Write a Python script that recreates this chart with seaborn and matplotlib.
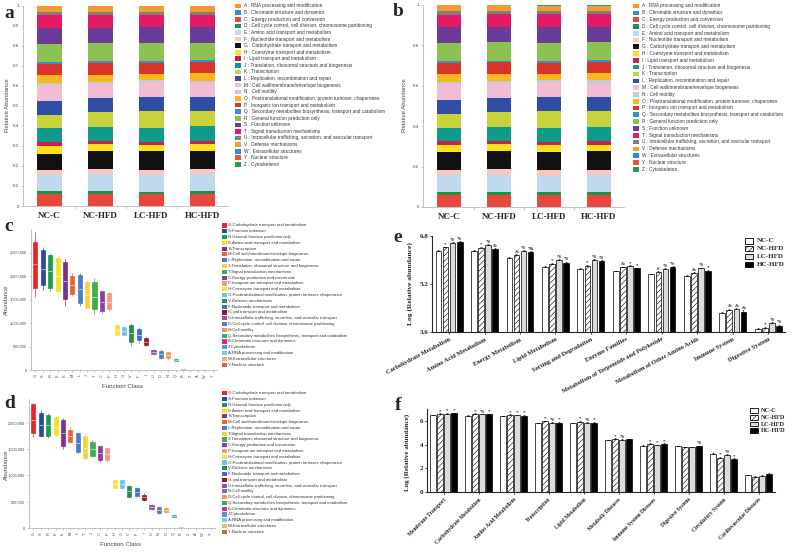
import numpy as np
import pandas as pd
import matplotlib
matplotlib.use("Agg")
import matplotlib.pyplot as plt
from matplotlib.patches import Rectangle
from matplotlib.ticker import FuncFormatter
import seaborn as sns

W, H = 800, 555
SANS = "Liberation Sans"
SERIF = "Liberation Serif"

GROUPS = ["NC-C", "NC-HFD", "LC-HFD", "HC-HFD"]

## panels a / b : COG composition (stacked from A at the bottom up to Z)
COG_LETTERS = ["A", "B", "C", "D", "E", "F", "G", "H", "I", "J", "K", "L", "M",
               "N", "O", "P", "Q", "R", "S", "T", "U", "V", "W", "Y", "Z"]
COG_NAMES = [
    "RNA processing and modification",
    "Chromatin structure and dynamics",
    "Energy production and conversion",
    "Cell cycle control, cell division, chromosome partitioning",
    "Amino acid transport and metabolism",
    "Nucleotide transport and metabolism",
    "Carbohydrate transport and metabolism",
    "Coenzyme transport and metabolism",
    "Lipid transport and metabolism",
    "Translation, ribosomal structure and biogenesis",
    "Transcription",
    "Replication, recombination and repair",
    "Cell wall/membrane/envelope biogenesis",
    "Cell motility",
    "Posttranslational modification, protein turnover, chaperones",
    "Inorganic ion transport and metabolism",
    "Secondary metabolites biosynthesis, transport and catabolism",
    "General function prediction only",
    "Function unknown",
    "Signal transduction mechanisms",
    "Intracellular trafficking, secretion, and vesicular transport",
    "Defense mechanisms",
    "Extracellular structures",
    "Nuclear structure",
    "Cytoskeleton",
]
COG_COLORS = ["#f39a1f", "#2f8fd1", "#e8473d", "#1f8f4a", "#bfd9ee", "#f8c6c3",
              "#111111", "#ffe01a", "#cc1f4e", "#0f9a8a", "#c8d23a", "#2e4fa3",
              "#f2bcd4", "#c9c9d6", "#f8b81d", "#d9342b", "#3a8ecf", "#8cc252",
              "#6a3b98", "#e31b63", "#7f7f7f", "#f39c34", "#2b8cd8", "#e8543e",
              "#2a9c4d"]

a_nc_c = [.001, .0005, .058, .014, .083, .025, .080, .040, .020, .068, .067, .070, .080,
          .008, .040, .055, .009, .091, .081, .062, .016, .030, .001, .0005, .002]
a_nc_hfd = [.001, .0005, .058, .014, .085, .028, .090, .032, .016, .070, .077, .068, .072,
            .010, .035, .057, .009, .092, .075, .063, .015, .030, .001, .0005, .002]
a_lc_hfd = [.001, .0005, .056, .014, .082, .026, .094, .030, .016, .072, .082, .070, .075,
            .009, .032, .055, .009, .090, .078, .063, .014, .029, .001, .0005, .002]
a_hc_hfd = [.001, .0005, .058, .013, .085, .027, .092, .032, .017, .072, .078, .068, .072,
            .011, .037, .055, .009, .088, .077, .062, .014, .029, .001, .0005, .002]

b_nc_c = [.001, .0005, .058, .016, .084, .025, .087, .035, .018, .066, .070, .069, .079,
          .009, .039, .055, .009, .090, .080, .062, .016, .030, .001, .0005, .002]
b_nc_hfd = [.001, .0005, .058, .015, .085, .027, .091, .032, .016, .070, .076, .068, .073,
            .010, .036, .057, .009, .091, .076, .063, .015, .030, .001, .0005, .002]
b_lc_hfd = [.001, .0005, .057, .014, .083, .026, .093, .031, .016, .071, .081, .070, .075,
            .009, .032, .055, .009, .090, .078, .063, .014, .029, .001, .0005, .002]
b_hc_hfd = [.001, .0005, .058, .014, .084, .027, .091, .032, .017, .072, .078, .068, .073,
            .011, .036, .055, .009, .089, .077, .062, .014, .029, .001, .0005, .002]

## panels c / d : abundance boxes per function class (min, q1, median, q3, max in millions)
c_classes = ["G", "S", "R", "E", "K", "M", "L", "J", "T", "C", "P", "H", "O",
             "V", "F", "I", "U", "D", "N", "Q", "B", "Z", "A", "W", "Y"]
d_classes = ["G", "S", "R", "E", "K", "M", "L", "T", "J", "C", "P", "H", "O",
             "V", "F", "I", "U", "N", "D", "Q", "B", "Z", "A", "W", "Y"]
BOX_COLORS = ["#e8252a", "#2a4b9b", "#1a9b4b", "#f4e21c", "#7d2f8f", "#e8642c",
              "#4c7cc5", "#f6d43f", "#3fae49", "#8c3fa0", "#f29a7a", "#f7e04a",
              "#6cc3e6", "#2a8b57", "#3f70b8", "#8e1c1f", "#9a4ca8", "#4f7fbd",
              "#ef9b4f", "#3aa86a", "#e0288a", "#5a94cc", "#78d0e3", "#f9b07c",
              "#e85a3c"]
c_stats = [
    [1.56, 1.74, 2.25, 2.72, 2.94], [1.71, 1.80, 2.15, 2.55, 2.62],
    [1.68, 1.75, 2.10, 2.45, 2.50], [1.62, 1.68, 2.00, 2.38, 2.45],
    [1.36, 1.51, 1.90, 2.30, 2.36], [1.58, 1.62, 1.80, 2.00, 2.06],
    [1.36, 1.43, 1.72, 2.02, 2.07], [1.29, 1.32, 1.60, 1.88, 1.93],
    [1.19, 1.29, 1.55, 1.88, 1.95], [1.21, 1.25, 1.45, 1.68, 1.69],
    [1.24, 1.29, 1.45, 1.63, 1.68], [0.72, 0.74, 0.85, 0.96, 0.99],
    [0.74, 0.75, 0.83, 0.92, 0.94], [0.51, 0.59, 0.78, 0.96, 0.99],
    [0.57, 0.63, 0.75, 0.88, 0.92], [0.51, 0.53, 0.60, 0.68, 0.70],
    [0.34, 0.35, 0.39, 0.42, 0.44], [0.24, 0.26, 0.33, 0.40, 0.44],
    [0.21, 0.26, 0.32, 0.38, 0.40], [0.19, 0.20, 0.22, 0.24, 0.25],
    [0.008, 0.010, 0.012, 0.014, 0.016], [0.004, 0.005, 0.006, 0.007, 0.008],
    [0.002, 0.003, 0.004, 0.005, 0.006], [0.001, 0.0015, 0.002, 0.0025, 0.003],
    [0.0005, 0.0008, 0.001, 0.0012, 0.0015],
]
d_stats = [
    [1.72, 1.80, 2.05, 2.35, 2.37], [1.72, 1.75, 1.95, 2.18, 2.24],
    [1.71, 1.75, 1.95, 2.15, 2.19], [1.72, 1.77, 1.92, 2.10, 2.13],
    [1.50, 1.55, 1.80, 2.05, 2.08], [1.62, 1.64, 1.75, 1.87, 1.92],
    [1.42, 1.45, 1.62, 1.80, 1.83], [1.29, 1.32, 1.52, 1.75, 1.80],
    [1.35, 1.36, 1.50, 1.64, 1.67], [1.26, 1.29, 1.42, 1.55, 1.58],
    [1.26, 1.29, 1.40, 1.51, 1.54], [0.74, 0.76, 0.84, 0.91, 0.93],
    [0.74, 0.76, 0.84, 0.91, 0.93], [0.57, 0.59, 0.70, 0.80, 0.82],
    [0.59, 0.60, 0.68, 0.76, 0.78], [0.52, 0.54, 0.58, 0.63, 0.66],
    [0.35, 0.36, 0.40, 0.44, 0.46], [0.27, 0.28, 0.34, 0.40, 0.41],
    [0.28, 0.30, 0.34, 0.38, 0.40], [0.20, 0.21, 0.23, 0.25, 0.26],
    [0.008, 0.010, 0.012, 0.014, 0.016], [0.004, 0.005, 0.006, 0.007, 0.008],
    [0.002, 0.003, 0.004, 0.005, 0.006], [0.001, 0.0015, 0.002, 0.0025, 0.003],
    [0.0005, 0.0008, 0.001, 0.0012, 0.0015],
]

## panel e : KEGG level-2/3 pathways, log relative abundance
e_categories = ["Carbohydrate Metabolism", "Amino Acid Metabolism", "Energy Metabolism",
                "Lipid Metabolism", "Sorting and Degradation", "Enzyme Families",
                "Metabolism of Terpenoids and Polyketide",
                "Metabolism of Other Amino Acids", "Immune System", "Digestive System"]
e_nc_c = [6.30, 6.31, 6.07, 5.78, 5.70, 5.63, 5.52, 5.47, 4.24, 3.71]
e_nc_hfd = [6.42, 6.39, 6.17, 5.87, 5.80, 5.76, 5.59, 5.57, 4.33, 3.74]
e_lc_hfd = [6.56, 6.49, 6.30, 6.00, 6.00, 5.79, 5.70, 5.72, 4.36, 3.89]
e_hc_hfd = [6.61, 6.36, 6.27, 5.91, 5.96, 5.73, 5.76, 5.64, 4.28, 3.81]
e_err = [[0.02, 0.02, 0.02, 0.01, 0.02, 0.02, 0.02, 0.02, 0.03, 0.02],
         [0.03, 0.04, 0.03, 0.02, 0.03, 0.02, 0.03, 0.03, 0.04, 0.02],
         [0.03, 0.03, 0.03, 0.03, 0.02, 0.03, 0.02, 0.03, 0.03, 0.03],
         [0.02, 0.03, 0.02, 0.03, 0.03, 0.02, 0.03, 0.02, 0.04, 0.03]]
e_marks = [["", "", "", "", "", "", "", "", "", ""],
           ["*", "*", "&", "*", "*", "&", "#", "&", "&", "*"],
           ["*#", "*#", "*#", "*#", "*#", "*", "*#", "*#", "&", "*#"],
           ["*#", "&", "*&", "*#", "*#", "*", "*#", "*", "&", "*#"]]

## panel f
f_categories = ["Membrane Transport", "Carbohydrate Metabolism", "Amino Acid Metabolism",
                "Transcription", "Lipid Metabolism", "Metabolic Diseases",
                "Immune System Diseases", "Digestive System", "Circulatory System",
                "Cardiovascular Diseases"]
f_nc_c = [6.49, 6.43, 6.38, 5.81, 5.81, 4.38, 3.92, 3.84, 3.24, 1.40]
f_nc_hfd = [6.59, 6.59, 6.49, 5.95, 5.92, 4.46, 4.05, 3.76, 2.86, 1.30]
f_lc_hfd = [6.62, 6.54, 6.49, 5.86, 5.86, 4.38, 3.95, 3.76, 3.14, 1.35]
f_hc_hfd = [6.65, 6.57, 6.43, 5.86, 5.86, 4.43, 4.05, 3.86, 2.76, 1.55]
f_err = [[0.03, 0.03, 0.03, 0.04, 0.03, 0.04, 0.04, 0.03, 0.05, 0.06],
         [0.04, 0.04, 0.05, 0.05, 0.05, 0.06, 0.05, 0.04, 0.08, 0.08],
         [0.03, 0.04, 0.04, 0.04, 0.04, 0.05, 0.05, 0.04, 0.07, 0.08],
         [0.04, 0.03, 0.04, 0.04, 0.04, 0.05, 0.05, 0.05, 0.08, 0.09]]
f_marks = [["", "", "", "", "", "", "", "", "", ""],
           ["*", "*", "*", "*", "*", "*", "*", "", "*", ""],
           ["*", "*#", "*", "*#", "*#", "*#", "*", "", "*#", ""],
           ["*", "*", "*", "*", "*", "", "*", "*#", "*", ""]]

BAR_FILLS = ["white", "white", "#dcdcdc", "black"]
BAR_HATCH = ["", "//////", "", ""]

sns.set_style("ticks")
plt.rcParams["font.family"] = [SANS, "DejaVu Sans"]
plt.rcParams["hatch.linewidth"] = 0.4

fig = plt.figure(figsize=(W / 100, H / 100), dpi=100)


def px_axes(l, t, r, b):
    return fig.add_axes([l / W, 1 - b / H, (r - l) / W, (b - t) / H])


def ftext(x, y, s, **kw):
    fig.text(x / W, 1 - y / H, s, **kw)


def draw_legend(x, y, step, labels, colors, size, box=(6, 4.5), gap=3,
                edge="none", hatches=None, **kw):
    for i, (lab, col) in enumerate(zip(labels, colors)):
        yy = y + i * step
        rect = Rectangle((x / W, 1 - (yy + box[1] / 2) / H), box[0] / W, box[1] / H,
                         transform=fig.transFigure, facecolor=col, edgecolor=edge,
                         linewidth=0.6, hatch=hatches[i] if hatches else None)
        fig.patches.append(rect)
        ftext(x + box[0] + gap, yy, lab, fontsize=size, va="center", **kw)


def stacked_panel(ax, table, ticks):
    vals = np.array(table)
    x = np.arange(len(GROUPS))
    bottoms = np.zeros(len(GROUPS))
    for j, col in enumerate(COG_COLORS):
        ax.bar(x, vals[:, j], bottom=bottoms, width=0.48, color=col, linewidth=0)
        bottoms += vals[:, j]
    ax.set_xlim(-0.52, 3.5)
    ax.set_ylim(0, 1)
    ax.set_yticks(ticks)
    ax.yaxis.set_major_formatter(FuncFormatter(lambda v, p: f"{v:g}"))
    ax.set_xticks(x)
    ax.set_xticklabels(GROUPS, fontfamily=SERIF, fontweight="bold", fontsize=6.5)
    ax.set_xticks([0.5, 1.5, 2.5], minor=True)
    ax.tick_params(axis="x", which="major", length=0, pad=4)
    ax.tick_params(axis="x", which="minor", length=2, width=0.4, color="#999999")
    ax.tick_params(axis="y", length=1.5, width=0.4, color="#999999", labelsize=3.2,
                   labelcolor="#444444", pad=1.5)
    for s in ["top", "right"]:
        ax.spines[s].set_visible(False)
    for s in ["left", "bottom"]:
        ax.spines[s].set_linewidth(0.5)
        ax.spines[s].set_color("#aaaaaa")


def box_panel(ax, classes, stats, ymax, ticks):
    df = pd.DataFrame({
        "cls": np.repeat(classes, 5),
        "value": np.concatenate(stats) * 1e6,
    })
    sns.boxplot(data=df, x="cls", y="value", hue="cls", order=classes,
                hue_order=classes, palette=BOX_COLORS, whis=(0, 100), width=0.55,
                linewidth=0.5, showcaps=False, showfliers=False, saturation=1,
                legend=False, ax=ax)
    for patch in ax.patches:
        patch.set_edgecolor(patch.get_facecolor())
    for line in ax.lines:
        xd = np.asarray(line.get_xdata(), dtype=float)
        if len(xd) == 2 and np.isclose(xd[0], xd[1]):
            line.set_color(BOX_COLORS[int(round(xd[0]))])
            line.set_linewidth(0.5)
        else:
            line.set_color("white")
            line.set_linewidth(0.4)
    ax.set_xlim(-0.6, len(classes) - 0.4)
    ax.set_ylim(0, ymax)
    ax.set_yticks(ticks)
    ax.yaxis.set_major_formatter(FuncFormatter(lambda v, p: f"{int(v):,}"))
    ax.set_xlabel("")
    ax.set_ylabel("")
    ax.tick_params(axis="x", length=1.5, width=0.4, color="#999999", labelsize=2.8,
                   labelrotation=90, labelcolor="#444444", pad=1.5)
    ax.tick_params(axis="y", length=1.5, width=0.4, color="#999999", labelsize=2.8,
                   labelcolor="#444444", pad=1.5)
    for s in ["top", "right"]:
        ax.spines[s].set_visible(False)
    for s in ["left", "bottom"]:
        ax.spines[s].set_linewidth(0.5)
        ax.spines[s].set_color("#aaaaaa")


def kegg_panel(ax, categories, series, errs, marks, ylim, ticks, rot, lab_size):
    df = pd.DataFrame({
        "category": np.tile(categories, len(GROUPS)),
        "group": np.repeat(GROUPS, len(categories)),
        "value": np.concatenate(series),
    })
    sns.barplot(data=df, x="category", y="value", hue="group", order=categories,
                hue_order=GROUPS, palette=dict(zip(GROUPS, BAR_FILLS)),
                edgecolor="black", linewidth=0.5, width=0.8, gap=0.2, saturation=1,
                errorbar=None, legend=False, ax=ax)
    containers = list(ax.containers)
    for k, cont in enumerate(containers):
        xs = [p.get_x() + p.get_width() / 2 for p in cont]
        ys = [p.get_height() for p in cont]
        for p in cont:
            p.set_hatch(BAR_HATCH[k])
        ax.errorbar(xs, ys, yerr=[np.zeros(len(ys)), errs[k]], fmt="none",
                    ecolor="black", elinewidth=0.4, capsize=0.8, capthick=0.4)
        for xx, yy, ee, mm in zip(xs, ys, errs[k], marks[k]):
            if mm:
                ax.text(xx, yy + ee + (ylim[1] - ylim[0]) * 0.005, mm, ha="center",
                        va="bottom", fontsize=3.6, fontfamily=SERIF, fontweight="bold")
    ax.set_ylim(*ylim)
    ax.set_xlim(-0.48, len(categories) - 0.53)
    ax.set_yticks(ticks)
    ax.yaxis.set_major_formatter(FuncFormatter(lambda v, p: f"{v:g}"))
    ax.set_xlabel("")
    ax.set_ylabel("")
    ax.set_xticks(range(len(categories)))
    ax.set_xticklabels(categories, rotation=rot, ha="right", va="top",
                       rotation_mode="anchor", fontsize=lab_size, fontfamily=SERIF,
                       fontweight="bold")
    for lab in ax.get_yticklabels():
        lab.set_fontfamily(SERIF)
        lab.set_fontweight("bold")
    ax.tick_params(axis="x", length=1.5, width=0.6, pad=2)
    ax.tick_params(axis="y", length=1.5, width=0.6, labelsize=5, pad=1)
    for s in ["top", "right"]:
        ax.spines[s].set_visible(False)
    for s in ["left", "bottom"]:
        ax.spines[s].set_linewidth(0.8)


# ---- a
ax_a = px_axes(23, 5.7, 228, 206)
stacked_panel(ax_a, [a_nc_c, a_nc_hfd, a_lc_hfd, a_hc_hfd], np.linspace(0, 1, 11))
ftext(8, 105, "Relative Abundance", rotation=90, fontsize=4.3, color="#444444",
      ha="center", va="center")
legend_cog = [f"{k} : {n}" for k, n in zip(COG_LETTERS, COG_NAMES)]
draw_legend(235, 6, 6.6, legend_cog, COG_COLORS, 3.4, box=(6, 4.6), gap=3,
            color="#333333")

# ---- b
ax_b = px_axes(423, 5, 624, 207)
stacked_panel(ax_b, [b_nc_c, b_nc_hfd, b_lc_hfd, b_hc_hfd], np.linspace(0, 1, 6))
ftext(404, 105, "Relative Abundance", rotation=90, fontsize=4.3, color="#444444",
      ha="center", va="center")
draw_legend(633, 6, 6.8, legend_cog, COG_COLORS, 3.4, box=(6, 4.6), gap=3,
            color="#333333")

# ---- c
ax_c = px_axes(31, 229, 217, 370)
box_panel(ax_c, c_classes, c_stats, 3.0e6, np.arange(0, 2.6e6, 5e5))
ftext(6, 300, "Abundance", rotation=90, fontsize=4.3, color="#444444",
      ha="center", va="center")
ftext(122, 387, "Function Class", fontsize=4.5, color="#444444", ha="center",
      va="center")
name_of = dict(zip(COG_LETTERS, COG_NAMES))
draw_legend(222, 225.4, 5.8, [f"{k}:{name_of[k]}" for k in c_classes], BOX_COLORS,
            3.1, box=(5, 4.2), gap=1.2, color="#333333")

# ---- d
ax_d = px_axes(29, 399, 215, 528)
box_panel(ax_d, d_classes, d_stats, 2.45e6, np.arange(0, 2.1e6, 5e5))
ftext(6, 465, "Abundance", rotation=90, fontsize=4.3, color="#444444",
      ha="center", va="center")
ftext(120, 545, "Function Class", fontsize=4.5, color="#444444", ha="center",
      va="center")
draw_legend(222, 393.3, 5.77, [f"{k}:{name_of[k]}" for k in d_classes], BOX_COLORS,
            3.1, box=(5, 4.2), gap=1.2, color="#333333")

# ---- e
ax_e = px_axes(432, 236, 785, 332)
kegg_panel(ax_e, e_categories, [e_nc_c, e_nc_hfd, e_lc_hfd, e_hc_hfd], e_err, e_marks,
           (3.6, 6.8), [3.6, 5.2, 6.8], 28, 4.6)
ftext(410, 284, "Log (Relative abundance)", rotation=90, fontsize=5.4,
      fontfamily=SERIF, fontweight="bold", ha="center", va="center")
draw_legend(745, 241, 7.7, GROUPS, BAR_FILLS, 5, box=(8, 5.2), gap=4, edge="black",
            hatches=BAR_HATCH, fontfamily=SERIF, fontweight="bold")

# ---- f
ax_f = px_axes(427, 409, 775, 492)
kegg_panel(ax_f, f_categories, [f_nc_c, f_nc_hfd, f_lc_hfd, f_hc_hfd], f_err, f_marks,
           (0, 7.0), [0, 2, 4, 6], 45, 4.0)
ftext(407, 452, "Log (Relative abundance)", rotation=90, fontsize=5.0,
      fontfamily=SERIF, fontweight="bold", ha="center", va="center")
draw_legend(750, 410.7, 6.7, GROUPS, BAR_FILLS, 4.6, box=(8, 4.8), gap=3,
            edge="black", hatches=BAR_HATCH, fontfamily=SERIF, fontweight="bold")

# panel letters
for lab, x, y in [("a", 4, 14), ("b", 393, 12), ("c", 4, 226), ("d", 4, 404),
                  ("e", 393, 237), ("f", 395, 406)]:
    ftext(x, y, lab, fontsize=14, fontfamily=SERIF, fontweight="bold", va="center")

fig.savefig("out.png", dpi=100)
